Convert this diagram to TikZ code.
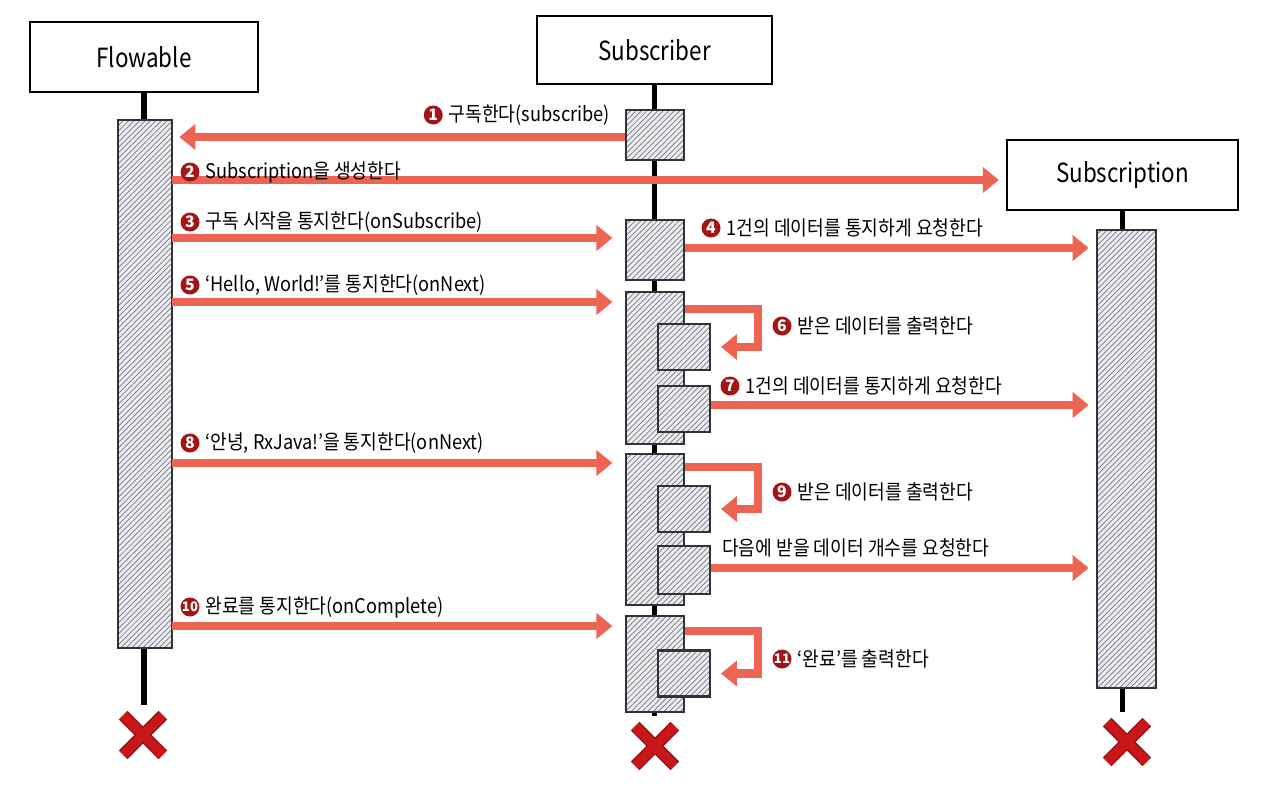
\documentclass[tikz,border=0pt]{standalone}
\usepackage{fontspec}
\setmainfont{Noto Sans CJK KR}
\newfontfamily\headfont[FakeStretch=0.85]{Noto Sans CJK KR}
\newfontfamily\lblfont[FakeStretch=0.9]{Noto Sans CJK KR}
\usepackage{tikz}
\usetikzlibrary{arrows.meta,positioning,patterns.meta,shapes.misc}

\definecolor{msgred}{RGB}{238,100,82}
\definecolor{numred}{RGB}{165,20,20}
\definecolor{xred}{RGB}{200,22,26}
\definecolor{barfill}{RGB}{236,236,246}

\tikzset{
  head/.style={draw, line width=1.3pt, fill=white, minimum height=1.4cm, font=\headfont\fontsize{15}{18}\selectfont},
  life/.style={line width=3pt, shorten >=6pt},
  act/.style={draw=black!80, line width=1.5pt, preaction={fill=barfill},
    pattern={Lines[angle=45,distance=2.2pt,line width=0.4pt]}, pattern color=black!55,
    minimum width=1.16cm, inner sep=0pt},
  subact/.style={act, minimum width=1.04cm, minimum height=0.92cm},
  msg/.style={draw=msgred, line width=4.6pt, -{Triangle[length=0.32cm,width=0.5cm]}, shorten >=4pt},
  lbl/.style={inner sep=1pt, font=\lblfont\fontsize{11.5}{13}\selectfont},
  num/.style={circle, fill=numred, text=white, inner sep=0pt, minimum size=0.38cm, font=\bfseries\fontsize{9}{9}\selectfont},
  endmark/.style={cross out, draw=xred, line width=5.5pt, minimum size=0.6cm, inner sep=0pt,
    preaction={draw=xred!70!black, line width=7pt}}
}

\begin{document}
\begin{tikzpicture}[x=0.02cm, y=-0.02cm]
   \useasboundingbox (0,0) rectangle (1280,796);
   \fill[white] (0,0) rectangle (1280,796);

   % objects
   \node[head, minimum width=4.56cm] (flow) at (144,57) {Flowable};
   \node[head, minimum width=4.7cm, minimum height=1.36cm] (subr) at (654.5,50) {Subscriber};
   \node[head, minimum width=4.62cm] (subn) at (1122.5,175) {Subscription};

   \node[endmark] (fend) at (143,735) {};
   \node[endmark] (rend) at (655,746) {};
   \node[endmark] (nend) at (1127,742) {};

   % lifelines
   \draw[life] (flow.south) -- (flow.south |- fend.north);
   \draw[life] (subr.south) -- (subr.south |- rend.north);
   \draw[life] (subn.south) -- (subn.south |- nend.north);

   % activations
   \node[act, minimum width=1.08cm, minimum height=10.56cm] (fbar) at (145,384) {};
   \node[act, minimum width=1.18cm, minimum height=9.16cm] (nbar) at (1126.5,459) {};
   \node[act, minimum height=1.0cm] (s1) at (655,135) {};
   \node[act, minimum height=1.2cm] (s3) at (655,250) {};
   \node[act, minimum height=3.04cm] (s5) at (655,368) {};
   \node[subact] (s6) at (684,347) {};
   \node[subact] (s7) at (684,409) {};
   \node[act, minimum height=3.02cm] (s8) at (655,529.5) {};
   \node[subact] (s9) at (684,509) {};
   \node[subact, minimum height=0.96cm] (s10) at (684,570) {};
   \node[act, minimum height=1.92cm] (s11) at (655,664) {};
   \node[subact] (s12) at (684,673.5) {};

   % message rows
   \coordinate (r1) at (0,137);
   \coordinate (r2) at (0,180);
   \coordinate (r3) at (0,238);
   \coordinate (r4) at (0,248);
   \coordinate (r5) at (0,302);
   \coordinate (r7) at (0,405);
   \coordinate (r8) at (0,463);
   \coordinate (r10) at (0,568);
   \coordinate (r11) at (0,626);

   % messages
   \draw[msg] (s1.west |- r1) -- (fbar.east |- r1);
   \draw[msg] (fbar.east |- r2) -- (subn.west |- r2);
   \draw[msg, shorten >=7pt] (fbar.east |- r3) -- (s3.west |- r3);
   \draw[msg] (s3.east |- r4) -- (nbar.west |- r4);
   \draw[msg, shorten >=7pt] (fbar.east |- r5) -- (s5.west |- r5);
   \draw[msg, shorten >=5.5pt] (s5.north east) ++(0,18) -- ++(73,0) |- (s6.east);
   \draw[msg] (s7.east |- r7) -- (nbar.west |- r7);
   \draw[msg, shorten >=7pt] (fbar.east |- r8) -- (s8.west |- r8);
   \draw[msg, shorten >=5.5pt] (s8.north east) ++(0,14) -- ++(73,0) |- (s9.east);
   \draw[msg] (s10.east |- r10) -- (nbar.west |- r10);
   \draw[msg, shorten >=7pt] (fbar.east |- r11) -- (s11.west |- r11);
   \draw[msg, shorten >=5.5pt] (s11.north east) ++(0,16) -- ++(73,0) |- (s12.east);

   % labels
   \node[lbl, anchor=east] (l1) at (612,115) {구독한다(subscribe)};
   \node[num, left=2pt of l1] (n1) {1};
   \node[num] (n2) at (190,172) {2};
   \node[lbl, right=2pt of n2] (l2) {Subscription을 생성한다};
   \node[num] (n3) at (190,222) {3};
   \node[lbl, right=2pt of n3] (l3) {구독 시작을 통지한다(onSubscribe)};
   \node[num] (n4) at (711,228) {4};
   \node[lbl, right=2pt of n4] (l4) {1건의 데이터를 통지하게 요청한다};
   \node[num] (n5) at (190,285) {5};
   \node[lbl, right=2pt of n5] (l5) {‘Hello, World!’를 통지한다(onNext)};
   \node[num] (n6) at (782,326) {6};
   \node[lbl, right=2pt of n6] (l6) {받은 데이터를 출력한다};
   \node[num] (n7) at (730,386) {7};
   \node[lbl, right=2pt of n7] (l7) {1건의 데이터를 통지하게 요청한다};
   \node[num] (n8) at (190,443) {8};
   \node[lbl, right=2pt of n8] (l8) {‘안녕, RxJava!’을 통지한다(onNext)};
   \node[num] (n9) at (782,492) {9};
   \node[lbl, right=2pt of n9] (l9) {받은 데이터를 출력한다};
   \node[lbl, anchor=west] (l10) at (720,548) {다음에 받을 데이터 개수를 요청한다};
   \node[num, font=\bfseries\fontsize{7.5}{7.5}\selectfont] (n11) at (190,607) {10};
   \node[lbl, right=2pt of n11] (l11) {완료를 통지한다(onComplete)};
   \node[num, font=\bfseries\fontsize{7.5}{7.5}\selectfont] (n12) at (782,659) {11};
   \node[lbl, right=2pt of n12] (l12) {‘완료’를 출력한다};
\end{tikzpicture}
\end{document}
